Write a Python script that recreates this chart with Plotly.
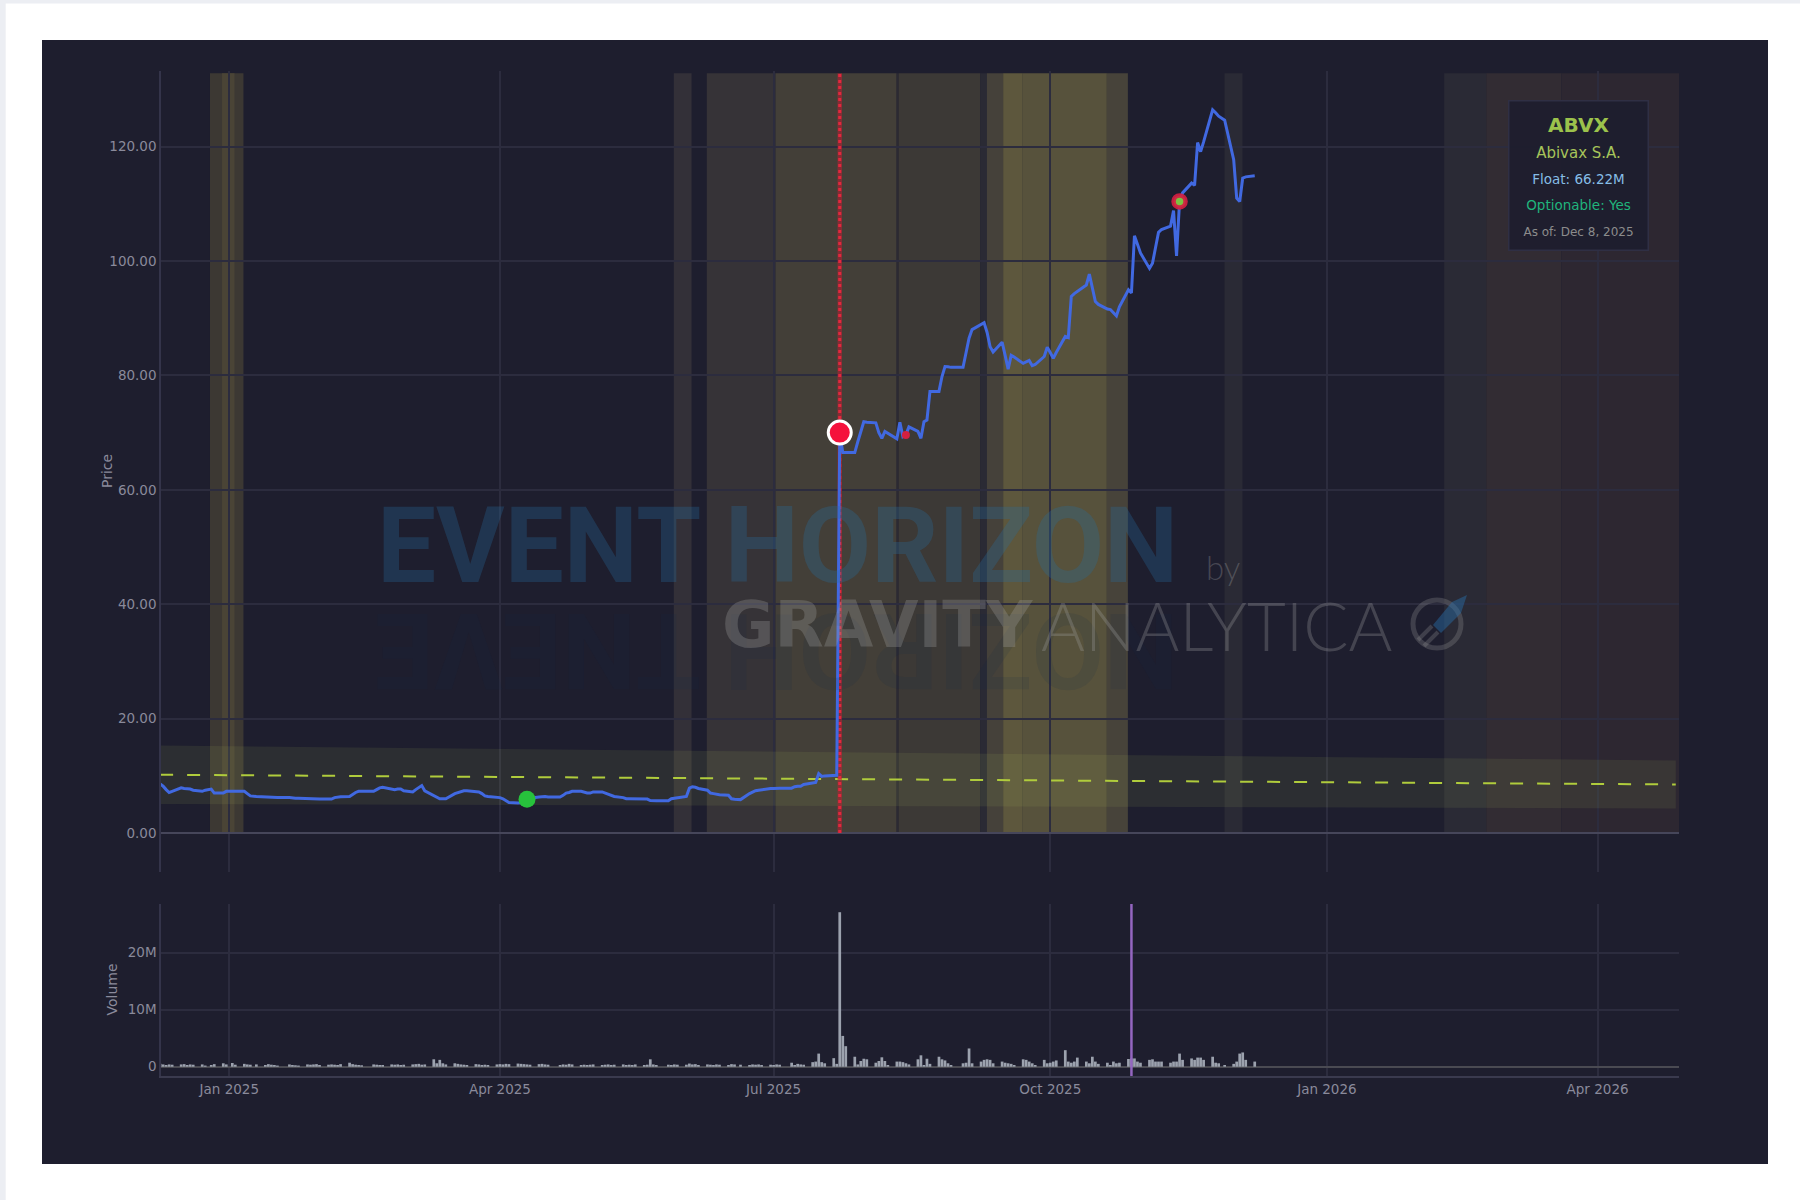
import pandas as pd
import plotly.graph_objects as go

# ---------------- data ----------------
HOLIDAYS = ["2024-12-25", "2025-01-01", "2025-01-09", "2025-01-20", "2025-02-17",
            "2025-04-18", "2025-05-26", "2025-06-19", "2025-07-04", "2025-09-01",
            "2025-11-27"]

P_DEC24 = [8.6, 8.2, 7.6, 7.1, 7.3, 7.9, 7.8, 7.8, 7.7, 7.5, 7.3, 7.5, 7.7, 7.0, 7.0, 7.3]
P_JAN25 = [7.3, 7.3, 7.3, 6.9, 6.5, 6.4, 6.3, 6.2, 6.2, 6.2, 6.2, 6.2, 6.1, 6.1, 6.1, 6.0,
           5.95, 5.95, 5.95, 5.95]
P_FEB25 = [5.95, 5.95, 6.2, 6.3, 6.35, 6.4, 6.8, 7.1, 7.3, 7.3, 7.3, 7.6, 7.9, 8.0, 7.6, 7.6,
           7.7, 7.7, 7.4]
P_MAR25 = [7.2, 7.6, 8.0, 8.3, 7.4, 6.5, 6.2, 6.0, 6.0, 6.0, 6.9, 7.1, 7.3, 7.4, 7.4, 7.3,
           7.2, 6.9, 6.5, 6.4, 6.3]
P_APR25 = [6.2, 6.0, 5.6, 5.35, 5.25, 5.3, 5.6, 5.9, 6.1, 6.3, 6.4, 6.4, 6.3, 6.3, 6.6, 7.0,
           7.1, 7.3, 7.3, 7.1, 7.0]
P_MAY25 = [7.0, 7.2, 7.2, 7.0, 6.8, 6.6, 6.4, 6.2, 6.0, 6.0, 6.0, 5.95, 5.95, 5.95, 5.7, 5.65,
           5.65, 5.65, 6.0, 6.1, 6.2]
P_JUN25 = [6.4, 7.85, 8.1, 8.0, 7.8, 7.5, 7.0, 6.9, 6.8, 6.7, 6.6, 6.0, 5.9, 5.85, 6.9, 7.2,
           7.4, 7.5, 7.6, 7.8]
P_JUL25 = [7.8, 7.85, 7.85, 7.85, 8.1, 8.2, 8.2, 8.5, 8.85, 8.85, 10.4, 9.9, 10.0, 10.0, 10.1,
           70.0, 66.5, 66.5, 66.5, 68.4, 70.1, 71.9]
P_AUG25 = [71.8, 71.7, 70.0, 69.0, 70.2, 69.9, 68.9, 71.8, 69.3, 69.6, 71.0, 70.2, 69.0, 71.9,
           72.2, 77.2, 77.2, 79.8, 81.55, 81.5, 81.4]
P_SEP25 = [81.4, 84.0, 86.5, 88.0, 89.0, 89.2, 87.5, 85.0, 84.1, 85.8, 83.5, 81.1, 83.5, 83.2,
           82.1, 82.4, 82.6, 81.7, 81.9, 83.3, 84.9]
P_OCT25 = [84.0, 83.0, 84.0, 86.8, 86.6, 93.8, 94.3, 94.7, 95.8, 97.7, 95.0, 92.9, 92.4, 91.6,
           91.5, 91.0, 90.4, 92.0, 94.95, 94.4, 104.4, 102.9, 101.4]
P_NOV25 = [98.7, 99.6, 102.3, 105.0, 105.5, 106.1, 108.8, 100.9, 110.4, 111.9, 113.6, 113.2,
           120.7, 119.1, 120.8, 126.4, 125.9, 125.3, 124.6]
P_DEC25 = [117.7, 111.0, 110.4, 114.5, 114.7, 114.9]

V_DEC24 = [0.5, 0.4, 0.3, 0.4, 0.35, 0.4, 0.45, 0.3, 0.4, 0.35, 0.4, 0.2, 0.3, 0.45, 0.6, 0.4]
V_JAN25 = [0.65, 0.35, 0.5, 0.4, 0.35, 0.4, 0.3, 0.45, 0.35, 0.3, 0.2, 0.4, 0.3, 0.25, 0.2,
           0.4, 0.35, 0.4, 0.45, 0.3]
V_FEB25 = [0.35, 0.4, 0.35, 0.3, 0.45, 0.7, 0.45, 0.35, 0.3, 0.25, 0.4, 0.35, 0.3, 0.3, 0.4,
           0.35, 0.4, 0.3, 0.35]
V_MAR25 = [0.4, 0.45, 0.5, 0.35, 0.4, 1.3, 0.6, 1.2, 0.6, 0.4, 0.6, 0.5, 0.4, 0.35, 0.3, 0.45,
           0.4, 0.3, 0.35, 0.3, 0.4]
V_APR25 = [0.45, 0.4, 0.5, 0.45, 0.55, 0.5, 0.45, 0.4, 0.35, 0.45, 0.5, 0.4, 0.35, 0.3, 0.4,
           0.35, 0.5, 0.4, 0.3, 0.35, 0.3]
V_MAY25 = [0.35, 0.4, 0.3, 0.35, 0.4, 0.3, 0.35, 0.4, 0.3, 0.35, 0.3, 0.4, 0.3, 0.35, 1.3, 0.4,
           0.3, 0.35, 0.3, 0.4, 0.35]
V_JUN25 = [0.35, 0.55, 0.4, 0.45, 0.3, 0.4, 0.35, 0.3, 0.4, 0.35, 0.3, 0.45, 0.4, 0.35, 0.3,
           0.4, 0.35, 0.4, 0.3, 0.35]
V_JUL25 = [0.3, 0.4, 0.35, 0.7, 0.3, 0.5, 0.4, 0.35, 0.8, 0.9, 2.3, 0.8, 0.6, 1.5, 0.5, 27.1,
           5.4, 3.6, 1.75, 0.4, 1.0, 1.4]
V_AUG25 = [1.3, 0.7, 1.0, 1.65, 1.0, 0.3, 0.9, 0.9, 0.8, 0.6, 0.4, 1.3, 2.0, 0.3, 1.4, 0.5,
           1.75, 1.3, 1.1, 0.6, 0.3]
V_SEP25 = [0.6, 0.7, 3.2, 0.6, 0.9, 1.2, 1.3, 1.2, 0.6, 0.9, 0.7, 0.6, 0.5, 0.3, 1.3, 1.2, 0.9,
           0.6, 0.3, 1.2, 0.6]
V_OCT25 = [0.7, 0.9, 1.1, 2.9, 0.9, 0.7, 0.9, 1.6, 0.9, 0.6, 1.75, 0.9, 0.5, 0.7, 0.3, 0.9, 0.6,
           0.7, 1.35, 1.45, 1.45, 0.9, 0.7]
V_NOV25 = [1.2, 1.3, 0.9, 0.9, 0.9, 0.7, 0.9, 0.9, 2.3, 1.2, 1.45, 1.2, 1.6, 1.6, 1.2, 1.75, 0.7,
           0.6, 0.3]
V_DEC25 = [0.5, 0.9, 2.3, 2.5, 1.2, 0.9]

PRICE = (P_DEC24 + P_JAN25 + P_FEB25 + P_MAR25 + P_APR25 + P_MAY25 + P_JUN25 + P_JUL25
         + P_AUG25 + P_SEP25 + P_OCT25 + P_NOV25 + P_DEC25)
VOLUME_M = (V_DEC24 + V_JAN25 + V_FEB25 + V_MAR25 + V_APR25 + V_MAY25 + V_JUN25 + V_JUL25
            + V_AUG25 + V_SEP25 + V_OCT25 + V_NOV25 + V_DEC25)

DATES = pd.bdate_range("2024-12-09", "2025-12-08", freq="C", holidays=HOLIDAYS)
assert len(DATES) == len(PRICE) == len(VOLUME_M), (len(DATES), len(PRICE), len(VOLUME_M))
VOLUME = [v * 1e6 for v in VOLUME_M]

# trend channel (read at both ends of the axis)
TREND_X = ["2024-12-09", "2026-04-27"]
TREND_MID = [10.2, 8.5]
TREND_UPPER = [15.3, 12.7]
TREND_LOWER = [5.1, 4.3]

# event markers
EVENT_BIG = "2025-07-23"
EVENT_SMALL = "2025-08-14"
EVENT_LOW = "2025-04-10"
EVENT_RING = "2025-11-13"
EVENT_VOLUME = "2025-10-28"

# shaded windows (start, end)
WIN_START = ["2024-12-25 14:00", "2024-12-29 14:00", "2025-05-28 19:30", "2025-06-08 19:00",
             "2025-07-01 16:00", "2025-08-10 22:00", "2025-08-11 14:00", "2025-09-07 16:30",
             "2025-09-09 22:00", "2025-09-15 08:00", "2025-09-21 21:00", "2025-10-19 20:00",
             "2025-11-27 23:00", "2026-02-09", "2026-02-23", "2026-03-20"]
WIN_END = ["2025-01-05 17:00", "2025-01-02 17:30", "2025-06-03 17:30", "2025-07-01 16:00",
           "2025-08-10 22:00", "2025-08-11 14:00", "2025-09-07 16:30", "2025-09-09 22:00",
           "2025-09-15 08:00", "2025-09-21 21:00", "2025-10-19 20:00", "2025-10-26 19:40",
           "2025-12-03 22:30", "2026-02-23", "2026-03-20", "2026-04-28 02:00"]
WIN_COLOR = ["#3c3833", "#4a4436", "#333038", "#363337", "#433f38", "#2b2a33", "#3c3936",
             "#2a2a34", "#45413a", "#5d573d", "#57523c", "#47433a", "#2a2a35", "#2a2a35",
             "#322c33", "#2d2731"]

X_RANGE = ["2024-12-09 07:00", "2026-04-28 02:00"]
Y_RANGE = [-6.8, 133.2]
V_RANGE = [-1.63e6, 28.54e6]
BAND_TOP = 132.8

# ---------------- layout helpers ----------------
W, H = 1800, 1200
ML, MR, MT, MB = 161, 121, 71, 124
PW, PH = W - ML - MR, H - MT - MB


def px(x):
    return (x - ML) / PW


def py(y):
    return (H - MB - y) / PH


BG = "#1e1e2e"
GRID = "#2c2c3e"
TICK = "#8a8a9b"
FONT = "DejaVu Sans"

price_of = dict(zip(DATES.strftime("%Y-%m-%d"), PRICE))

fig = go.Figure()

# channel
fig.add_trace(go.Scatter(
    x=TREND_X + TREND_X[::-1], y=TREND_UPPER + TREND_LOWER[::-1],
    fill="toself", fillcolor="rgba(190,210,100,0.09)", line=dict(width=0),
    mode="lines", hoverinfo="skip", xaxis="x", yaxis="y"))
fig.add_trace(go.Scatter(
    x=TREND_X, y=TREND_MID, mode="lines",
    line=dict(color="#b0cc3c", width=2, dash="13px,14px"), xaxis="x", yaxis="y"))

# event line (drawn under the markers)
fig.add_trace(go.Scatter(
    x=[EVENT_BIG, EVENT_BIG], y=[0, BAND_TOP], mode="lines",
    line=dict(color="rgba(190,30,50,0.55)", width=4.5), xaxis="x", yaxis="y"))
fig.add_trace(go.Scatter(
    x=[EVENT_BIG, EVENT_BIG], y=[0, BAND_TOP], mode="lines",
    line=dict(color="#e3283e", width=3, dash="dot"), xaxis="x", yaxis="y"))

# price line
fig.add_trace(go.Scatter(
    x=DATES, y=PRICE, mode="lines", line=dict(color="#4169e1", width=3),
    xaxis="x", yaxis="y"))

# markers
fig.add_trace(go.Scatter(
    x=[EVENT_LOW], y=[price_of[EVENT_LOW]], mode="markers",
    marker=dict(size=17, color="#27c23c"), xaxis="x", yaxis="y"))
fig.add_trace(go.Scatter(
    x=[EVENT_SMALL], y=[price_of[EVENT_SMALL]], mode="markers",
    marker=dict(size=8, color="#d3203f"), xaxis="x", yaxis="y"))
fig.add_trace(go.Scatter(
    x=[EVENT_RING], y=[price_of[EVENT_RING]], mode="markers",
    marker=dict(size=12, color="#7cc242", line=dict(color="rgba(212,30,66,0.92)", width=4.5)),
    xaxis="x", yaxis="y"))
fig.add_trace(go.Scatter(
    x=[EVENT_BIG], y=[price_of[EVENT_BIG]], mode="markers",
    marker=dict(size=23, color="#f5123c", line=dict(color="#ffffff", width=3)),
    xaxis="x", yaxis="y"))

# volume
fig.add_trace(go.Bar(
    x=DATES, y=VOLUME, marker=dict(color="rgba(170,176,188,0.9)", line=dict(width=0)),
    xaxis="x2", yaxis="y2"))
fig.add_trace(go.Scatter(
    x=[EVENT_VOLUME, EVENT_VOLUME], y=V_RANGE, mode="lines",
    line=dict(color="#9466c0", width=2.5), xaxis="x2", yaxis="y2"))

shapes = []
# page frame
shapes.append(dict(type="rect", xref="paper", yref="paper", x0=px(42), x1=px(1768),
                   y0=py(1164), y1=py(40), fillcolor=BG, line=dict(width=0), layer="below"))
shapes.append(dict(type="rect", xref="paper", yref="paper", x0=px(0), x1=px(W),
                   y0=py(3.5), y1=py(0), fillcolor="#eceef3", line=dict(width=0), layer="below"))
shapes.append(dict(type="rect", xref="paper", yref="paper", x0=px(0), x1=px(5.7),
                   y0=py(H), y1=py(0), fillcolor="#eceef3", line=dict(width=0), layer="below"))
# shaded windows
for s, e, c in zip(WIN_START, WIN_END, WIN_COLOR):
    shapes.append(dict(type="rect", xref="x", yref="y", x0=s, x1=e, y0=0, y1=BAND_TOP,
                       fillcolor=c, line=dict(width=0), layer="below"))

# watermark logo (ring + rocket)
shapes.append(dict(type="circle", xref="paper", yref="paper", x0=px(1413), x1=px(1461),
                   y0=py(648), y1=py(600), line=dict(color="rgba(160,160,160,0.26)", width=5)))
rocket = [(1467, 595), (1461, 613), (1441, 633), (1433, 625), (1452, 602)]
path = "M " + " L ".join(f"{px(a):.5f},{py(b):.5f}" for a, b in rocket) + " Z"
shapes.append(dict(type="path", xref="paper", yref="paper", path=path,
                   fillcolor="rgba(40,110,170,0.45)", line=dict(width=0)))
for (a, b, c, d) in [(1418, 640, 1432, 626), (1424, 646, 1438, 632)]:
    shapes.append(dict(type="line", xref="paper", yref="paper", x0=px(a), y0=py(b),
                       x1=px(c), y1=py(d), line=dict(color="rgba(160,160,160,0.26)", width=4)))

annotations = [
    dict(text="EVENT HORIZON", x=px(777), y=py(546), xref="paper", yref="paper",
         showarrow=False, xanchor="center", yanchor="middle",
         font=dict(family="Roboto", size=105, weight=700, color="rgba(40,110,160,0.30)")),
    dict(text="NOZIROH TNEVE", x=px(777), y=py(650), xref="paper", yref="paper",
         showarrow=False, xanchor="center", yanchor="middle", textangle=180,
         font=dict(family="Roboto", size=105, weight=700, color="rgba(20,40,70,0.12)")),
    dict(text="by", x=px(1223), y=py(567), xref="paper", yref="paper", showarrow=False,
         xanchor="center", yanchor="middle",
         font=dict(family="Lato", size=33, weight=300, color="rgba(160,160,160,0.32)")),
    dict(text="GRAVITY", x=px(877), y=py(625), xref="paper", yref="paper", showarrow=False,
         xanchor="center", yanchor="middle",
         font=dict(family="DejaVu Sans", size=64, weight=700, color="rgba(160,160,160,0.30)")),
    dict(text="ANALYTICA", x=px(1216), y=py(625), xref="paper", yref="paper", showarrow=False,
         xanchor="center", yanchor="middle",
         font=dict(family="Lato", size=67, weight=300, color="rgba(160,160,160,0.30)")),
    dict(text=("<b>ABVX</b><br>"
               "<span style='font-size:15px;color:#a6c45a'>Abivax S.A.</span><br>"
               "<span style='font-size:13.5px;color:#86bde6'>Float: 66.22M</span><br>"
               "<span style='font-size:13.5px;color:#20b47c'>Optionable: Yes</span><br>"
               "<span style='font-size:12px;color:#8c8c8c'>As of: Dec 8, 2025</span>"),
         x=px(1578), y=py(176), xref="paper", yref="paper", showarrow=False,
         xanchor="center", yanchor="middle", align="center", width=128, height=138,
         borderpad=5, borderwidth=1.5, bordercolor="#2f2f44", bgcolor="rgba(30,30,46,0.96)",
         font=dict(family=FONT, size=20, color="#9cc24c")),
    # axis titles
    dict(text="Price", x=px(107), y=py(471), xref="paper", yref="paper", showarrow=False,
         xanchor="center", yanchor="middle", textangle=-90,
         font=dict(family=FONT, size=14, color=TICK)),
    dict(text="Volume", x=px(111.5), y=py(990), xref="paper", yref="paper", showarrow=False,
         xanchor="center", yanchor="middle", textangle=-90,
         font=dict(family=FONT, size=14, color=TICK)),
]

axis_common = dict(type="date", range=X_RANGE, dtick="M3", tick0="2025-01-01",
                   showgrid=True, gridcolor=GRID, gridwidth=1.5, zeroline=False, ticks="")

fig.update_layout(
    width=W, height=H,
    margin=dict(l=ML, r=MR, t=MT, b=MB, pad=0),
    paper_bgcolor="#ffffff", plot_bgcolor=BG,
    font=dict(family=FONT, size=13.5, color=TICK),
    showlegend=False,
    bargap=0.1,
    xaxis=dict(axis_common, anchor="y", domain=[0, 1], showticklabels=False, showline=False),
    xaxis2=dict(axis_common, anchor="y2", domain=[0, 1], matches="x", tickformat="%b %Y",
                showline=True, linecolor="#3a3a4e", linewidth=2),
    yaxis=dict(domain=[py(872), 1], range=Y_RANGE, dtick=20, tick0=0, tickformat=".2f",
               showgrid=True, gridcolor=GRID, gridwidth=2, zeroline=True,
               zerolinecolor="#46465a", zerolinewidth=2, showline=True, linecolor="#34344a",
               linewidth=1.5, ticks=""),
    yaxis2=dict(domain=[0, py(904)], range=V_RANGE, tickvals=[0, 10e6, 20e6],
                ticktext=["0", "10M", "20M"], showgrid=True, gridcolor=GRID, gridwidth=2,
                zeroline=True, zerolinecolor="#4a4a52", zerolinewidth=2, showline=True,
                linecolor="#34344a", linewidth=1.5, ticks=""),
    shapes=shapes,
    annotations=annotations,
)

fig.write_html("out.html", config={"displayModeBar": False},
               post_script="document.body.style.margin='0';document.body.style.overflow='hidden';")
